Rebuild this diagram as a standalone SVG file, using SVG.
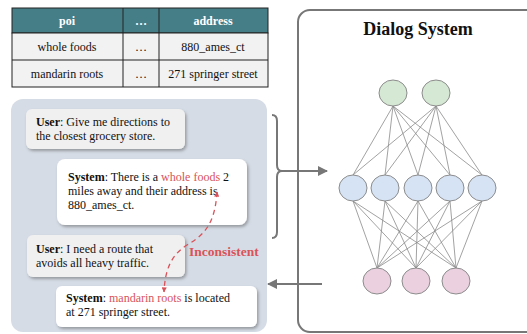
<svg xmlns="http://www.w3.org/2000/svg" width="527" height="334" viewBox="0 0 527 334">
<defs>
<style>
text{font-family:Liberation Serif, Times New Roman, serif}
.t{font-size:12px;fill:#111}
.b{font-weight:bold}
.r{fill:#d9535a}
.th{font-size:12px;font-weight:bold;fill:#fff}
.cell{stroke:#222;stroke-width:1}
.edge{stroke:#8a8a8a;stroke-width:0.8;fill:none}
.g{fill:#d5e8d4;stroke:#8c8c8c;stroke-width:1}
.bl{fill:#d5e3f5;stroke:#8c8c8c;stroke-width:1}
.pk{fill:#ebd0df;stroke:#8c8c8c;stroke-width:1}
.conn{stroke:#777;stroke-width:2;fill:none}
</style>
<filter id="sh" x="-10%" y="-20%" width="130%" height="150%">
<feDropShadow dx="1.5" dy="2" stdDeviation="1.5" flood-color="#000" flood-opacity="0.3"/>
</filter>
<marker id="ah" viewBox="0 0 10 10" refX="9" refY="5" markerWidth="5" markerHeight="5" orient="auto">
<path d="M0,0 L10,5 L0,10 z" fill="#777"/>
</marker>
<marker id="ar" viewBox="0 0 10 10" refX="9" refY="5" markerWidth="4" markerHeight="4" orient="auto-start-reverse">
<path d="M0,0 L10,5 L0,10 z" fill="#d9535a"/>
</marker>
</defs>
<rect width="527" height="334" fill="#fff"/>

<g id="table">
<rect x="12" y="8" width="256" height="25" fill="#467e88" class="cell"/>
<rect x="12" y="33" width="256" height="54" fill="#f2f2f2" class="cell"/>
<line x1="12" y1="60" x2="268" y2="60" class="cell"/>
<line x1="123" y1="8" x2="123" y2="87" class="cell"/>
<line x1="159" y1="8" x2="159" y2="87" class="cell"/>
<text class="th" x="67" y="25" text-anchor="middle">poi</text>
<text class="th" x="141" y="25" text-anchor="middle">…</text>
<text class="th" x="213" y="25" text-anchor="middle">address</text>
<text class="t" x="67" y="51" text-anchor="middle">whole foods</text>
<text class="t" x="141" y="51" text-anchor="middle">…</text>
<text class="t" x="213" y="51" text-anchor="middle">880_ames_ct</text>
<text class="t" x="67" y="78" text-anchor="middle">mandarin roots</text>
<text class="t" x="141" y="78" text-anchor="middle">…</text>
<text class="t" x="213" y="78" text-anchor="middle">271 springer street</text>
</g>

<g id="dialog-panel">
<rect x="11" y="99" width="256" height="233" rx="12" fill="#d6dce5"/>
</g>

<g id="user1">
<rect x="26" y="109" width="159" height="40" rx="6" fill="#f0f0f0" filter="url(#sh)"/>
<text class="t" x="36" y="126"><tspan class="b">User</tspan>: Give me directions to</text>
<text class="t" x="36" y="140">the closest grocery store.</text>
</g>

<g id="system1">
<rect x="57" y="159" width="190" height="66" rx="8" fill="#fff" filter="url(#sh)"/>
<text class="t" x="68" y="181"><tspan class="b">System</tspan>: There is a <tspan class="r">whole foods</tspan> 2</text>
<text class="t" x="68" y="195">miles away and their address is</text>
<text class="t" x="68" y="209">880_ames_ct.</text>
</g>

<g id="user2">
<rect x="27" y="235" width="158" height="42" rx="6" fill="#f0f0f0" filter="url(#sh)"/>
<text class="t" x="36" y="253"><tspan class="b">User</tspan>: I need a route that</text>
<text class="t" x="36" y="267">avoids all heavy traffic.</text>
</g>

<g id="system2">
<rect x="56" y="286" width="201" height="41" rx="6" fill="#fff" filter="url(#sh)"/>
<text class="t" x="66" y="302"><tspan class="b">System</tspan>: <tspan class="r">mandarin roots</tspan> is located</text>
<text class="t" x="66" y="316">at 271 springer street.</text>
</g>

<g id="inconsistent">
<path d="M217 192 C215 222,206 234,187 245 C171 255,165 270,164 292" fill="none" stroke="#d9535a" stroke-width="1.3" stroke-dasharray="5,4" marker-start="url(#ar)" marker-end="url(#ar)"/>
<text x="189" y="256" font-size="13.5" font-weight="bold" fill="#d9535a">Inconsistent</text>
</g>

<g id="dialog-system">
<rect x="298" y="10" width="250" height="322" rx="12" fill="#fff" stroke="#777" stroke-width="2"/>
<text x="418" y="35" text-anchor="middle" font-size="18" font-weight="bold" fill="#111">Dialog System</text>
</g>

<g id="connectors">
<path class="conn" d="M272 115 Q277 115 277 121 L277 165 Q277 171 282 171"/>
<path class="conn" d="M282 171 Q277 171 277 177 L277 232 Q277 238 272 238"/>
<line class="conn" x1="280" y1="171" x2="327" y2="171" marker-end="url(#ah)"/>
<line class="conn" x1="322" y1="284" x2="268" y2="284" marker-end="url(#ah)"/>
</g>

<g id="nn-edges">
<g class="edge">
<path d="M393 106 L353 175 M393 106 L385 175 M393 106 L418 175 M393 106 L450 175 M393 106 L482 175"/>
<path d="M436 106 L353 175 M436 106 L385 175 M436 106 L418 175 M436 106 L450 175 M436 106 L482 175"/>
<path d="M353 201 L377 268 M353 201 L416 268 M353 201 L456 268"/>
<path d="M385 201 L377 268 M385 201 L416 268 M385 201 L456 268"/>
<path d="M418 201 L377 268 M418 201 L416 268 M418 201 L456 268"/>
<path d="M450 201 L377 268 M450 201 L416 268 M450 201 L456 268"/>
<path d="M482 201 L377 268 M482 201 L416 268 M482 201 L456 268"/>
</g>
</g>

<g id="nn-out1"><ellipse class="g" cx="393" cy="93" rx="14" ry="13"/></g>
<g id="nn-out2"><ellipse class="g" cx="436" cy="93" rx="14" ry="13"/></g>
<g id="nn-h1"><ellipse class="bl" cx="353" cy="188" rx="14" ry="13"/></g>
<g id="nn-h2"><ellipse class="bl" cx="385" cy="188" rx="14" ry="13"/></g>
<g id="nn-h3"><ellipse class="bl" cx="418" cy="188" rx="14" ry="13"/></g>
<g id="nn-h4"><ellipse class="bl" cx="450" cy="188" rx="14" ry="13"/></g>
<g id="nn-h5"><ellipse class="bl" cx="482" cy="188" rx="14" ry="13"/></g>
<g id="nn-in1"><ellipse class="pk" cx="377" cy="281" rx="14" ry="13"/></g>
<g id="nn-in2"><ellipse class="pk" cx="416" cy="281" rx="14" ry="13"/></g>
<g id="nn-in3"><ellipse class="pk" cx="456" cy="281" rx="14" ry="13"/></g>
</svg>
